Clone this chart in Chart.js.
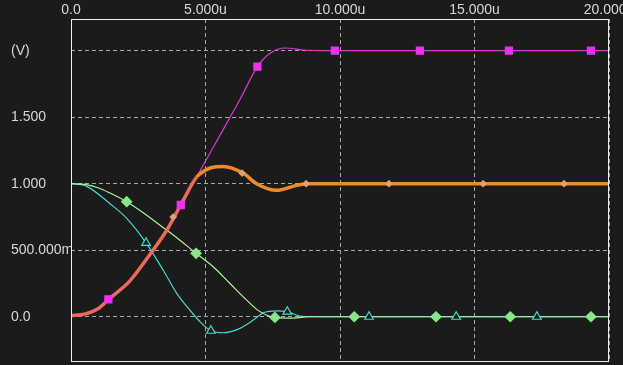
<!DOCTYPE html>
<html>
<head>
<meta charset="utf-8">
<script src="https://cdn.jsdelivr.net/npm/chart.js@4/dist/chart.umd.min.js"></script>
<style>
  html, body { margin: 0; padding: 0; background: #1b1b1b; overflow: hidden; }
  canvas { display: block; }
</style>
</head>
<body>
<canvas id="scope" width="623" height="365"></canvas>
<script>
// ---- data (time in µs, volts) ----
const xTickValues = [0, 5, 10, 15, 20];
const xTickLabels = ['0.0', '5.000u', '10.000u', '15.000u', '20.000u'];
const yTickValues = [0, 0.5, 1, 1.5, 2];
const yTickLabels = ['0.0', '500.000m', '1.000', '1.500', '(V)'];

// magenta trace
const magentaT = [0, 0.5, 1.0, 1.39, 2.19, 2.94, 3.56, 4.08, 4.67, 5.5, 6.3, 6.93, 7.4, 7.96, 8.64, 9.5, 20];
const magentaV = [0.01, 0.02, 0.06, 0.13, 0.27, 0.47, 0.65, 0.84, 1.05, 1.35, 1.64, 1.88, 1.98, 2.02, 2.005, 2.0, 2.0];
const magentaMarkT = [1.39, 4.08, 6.93, 9.81, 12.97, 16.28, 19.33];
const magentaMarkV = [0.13, 0.84, 1.88, 2.0, 2.0, 2.0, 2.0];

// orange trace
const orangeT = [0, 0.5, 1.0, 1.39, 2.19, 2.94, 3.56, 4.08, 4.67, 4.9, 5.2, 5.66, 6.39, 6.9, 7.65, 8.25, 8.76, 20];
const orangeV = [0.01, 0.02, 0.06, 0.13, 0.27, 0.47, 0.65, 0.84, 1.05, 1.09, 1.12, 1.13, 1.08, 1.0, 0.95, 0.98, 1.0, 1.0];
const orangeMarkT = [3.8, 6.36, 8.74, 11.82, 15.32, 18.33];
const orangeMarkV = [0.75, 1.08, 1.0, 1.0, 1.0, 1.0];

// green trace
const greenEdgeT = [0, 0];
const greenEdgeV = [0, 1.0];
const greenT = [0, 0.5, 1.0, 1.45, 2.07, 2.7, 3.3, 3.9, 4.65, 5.29, 5.91, 6.53, 6.94, 7.3, 7.58, 8.0, 8.4, 8.8, 20];
const greenV = [1.0, 0.995, 0.97, 0.93, 0.865, 0.78, 0.69, 0.6, 0.477, 0.376, 0.25, 0.125, 0.05, 0.01, -0.005, -0.01, -0.008, 0, 0];
const greenMarkT = [2.07, 4.65, 7.58, 10.53, 13.57, 16.33, 19.33];
const greenMarkV = [0.865, 0.477, -0.005, 0, 0, 0, 0];

// cyan trace
const cyanT = [0, 0.58, 1.45, 2.07, 2.79, 3.43, 3.93, 4.42, 4.8, 5.2, 5.66, 6.28, 6.78, 7.15, 7.65, 8.04, 8.5, 9.0, 20];
const cyanV = [1.0, 0.98, 0.85, 0.74, 0.556, 0.35, 0.176, 0.05, -0.038, -0.105, -0.12, -0.087, -0.025, 0.03, 0.045, 0.038, 0.005, 0, 0];
const cyanMarkT = [2.79, 5.2, 8.04, 11.08, 14.32, 17.32];
const cyanMarkV = [0.556, -0.105, 0.038, 0, 0, 0];

// ---- helpers ----
const pts = (t, v) => t.map((x, i) => ({ x: x, y: v[i] }));

const COL = {
  bg:      '#1b1b1b',
  grid:    '#a8a8a8',
  frame:   '#f0f0f0',
  text:    '#d8d8d8',
  magenta: '#d83ad8',
  magMark: '#f030f0',
  orange:  '#f08a24',
  salmon:  '#ea6a5c',
  orMark:  '#e0a070',
  green:   '#b0f4a0',
  grMark:  '#88e888',
  cyan:    '#48d8d0',
};

function lineSet(data, color, width, order, extra) {
  return Object.assign({
    data: data,
    borderColor: color,
    borderWidth: width,
    pointRadius: 0,
    fill: false,
    cubicInterpolationMode: 'monotone',
    order: order,
  }, extra || {});
}

function markSet(data, style, radius, fillCol, lineCol, order) {
  return {
    data: data,
    showLine: false,
    pointStyle: style,
    pointRadius: radius,
    pointBackgroundColor: fillCol,
    pointBorderColor: lineCol,
    pointBorderWidth: 1.2,
    order: order,
  };
}

// frame around the plot area + background
const framePlugin = {
  id: 'frame',
  beforeDraw(chart) {
    const ctx = chart.ctx;
    ctx.save();
    ctx.fillStyle = COL.bg;
    ctx.fillRect(0, 0, chart.width, chart.height);
    ctx.restore();
  },
  afterDatasetsDraw(chart) {
    const a = chart.chartArea;
    const ctx = chart.ctx;
    ctx.save();
    ctx.strokeStyle = COL.frame;
    ctx.lineWidth = 1;
    ctx.strokeRect(Math.round(a.left) + 0.5, Math.round(a.top) + 0.5,
                   Math.round(a.right - a.left) - 1, Math.round(a.bottom - a.top) - 1);
    ctx.restore();
  }
};

const tickFont = { family: "'Liberation Sans', Arial, sans-serif", size: 14 };

new Chart(document.getElementById('scope'), {
  type: 'line',
  data: {
    datasets: [
      markSet(pts(magentaMarkT, magentaMarkV), 'rect', 5, COL.magMark, COL.magMark, 0),
      markSet(pts(orangeMarkT, orangeMarkV), 'rectRot', 3, COL.orMark, COL.orMark, 0),
      markSet(pts(greenMarkT, greenMarkV), 'rectRot', 5, COL.grMark, COL.grMark, 0),
      markSet(pts(cyanMarkT, cyanMarkV), 'triangle', 5, COL.bg, COL.cyan, 0),
      lineSet(pts(orangeT, orangeV), COL.orange, 3.5, 2, {
        segment: {
          borderColor: c => (c.p1.parsed.x <= 4.67 ? COL.salmon : undefined),
        },
      }),
      lineSet(pts(magentaT, magentaV), COL.magenta, 1.2, 3),
      lineSet(pts(greenT, greenV), COL.green, 1.2, 4),
      lineSet(pts(greenEdgeT, greenEdgeV), COL.green, 1.5, 4, { cubicInterpolationMode: 'default', tension: 0 }),
      lineSet(pts(cyanT, cyanV), COL.cyan, 1.2, 5),
    ]
  },
  options: {
    responsive: false,
    animation: false,
    layout: { autoPadding: false, padding: { left: 11, right: 14, top: 0, bottom: 3 } },
    plugins: {
      legend: { display: false },
      tooltip: { enabled: false },
    },
    scales: {
      x: {
        type: 'linear',
        position: 'top',
        min: 0,
        max: 20,
        afterBuildTicks: s => { s.ticks = xTickValues.map(v => ({ value: v })); },
        afterFit: s => { s.height = 19; s.paddingLeft = 0; s.paddingRight = 0; },
        ticks: {
          color: COL.text,
          font: tickFont,
          padding: 0,
          maxRotation: 0,
          autoSkip: false,
          callback: v => xTickLabels[xTickValues.indexOf(v)],
        },
        grid: { color: COL.grid, lineWidth: 1, drawTicks: false },
        border: { display: false, dash: [4, 3] },
      },
      y: {
        type: 'linear',
        min: -0.34,
        max: 2.238,
        afterBuildTicks: s => { s.ticks = yTickValues.map(v => ({ value: v })); },
        afterFit: s => { s.width = 60; s.paddingTop = 0; s.paddingBottom = 0; },
        ticks: {
          color: COL.text,
          font: Object.assign({ lineHeight: 0.1 }, tickFont),
          crossAlign: 'far',
          padding: 0,
          autoSkip: false,
          callback: v => yTickLabels[yTickValues.indexOf(v)],
        },
        grid: { color: COL.grid, lineWidth: 1, drawTicks: false },
        border: { display: false, dash: [4, 3] },
      }
    }
  },
  plugins: [framePlugin]
});
</script>
</body>
</html>
